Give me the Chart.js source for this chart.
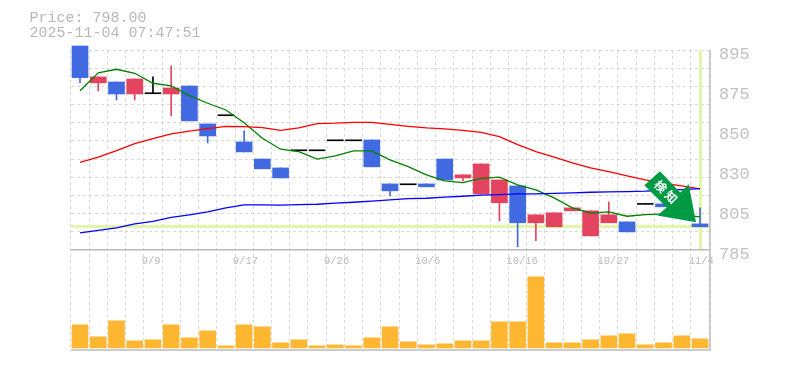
<!DOCTYPE html>
<html><head><meta charset="utf-8">
<style>html,body{margin:0;padding:0;background:#fff}canvas{display:block}
#t{position:absolute;left:29.5px;top:11px;font:15px/15px "Liberation Mono",monospace;color:#b8b8b8;white-space:pre}</style>
<script src="https://cdn.jsdelivr.net/npm/chart.js@4"></script></head>
<body><div id="t">Price: 798.00
2025-11-04 07:47:51</div><canvas id="c" width="785" height="370"></canvas>
<script>
const categories = ['8/26','8/27','8/28','8/29','9/9','9/2','9/3','9/4','9/5','9/17','9/10','9/11','9/12','9/16','9/26','9/18','9/19','9/22','9/24','10/6','9/29','9/30','10/1','10/2','10/16','10/7','10/8','10/9','10/10','10/27','10/14','10/15','10/17','10/20','11/4'];
const dateLabels = ['','','','','9/9','','','','','9/17','','','','','9/26','','','','','10/6','','','','','10/16','','','','','10/27','','','','','11/4',''];
const opens  = [897.2,876.9,877.4,870.8,871.2,870.8,875.2,854.3,859.1,844.4,835,830.1,839.8,839.8,845.3,845.3,845.5,821.3,821.1,821.3,835,824.6,815.8,810.9,820.2,799.9,797.7,806.5,792.7,799.9,800.4,810.3,810.3,808,799.3];
const closes = [879.8,880.2,870.8,879.05,871.2,874.1,856,847.7,859.1,838.9,829.6,824.6,839.8,839.8,845.3,845.3,830.7,817.5,821.1,819.7,823.5,826.3,832.3,823.5,799.9,804.3,805.4,808.1,806.5,804.3,794.9,810.3,808.7,808,797.7];
const highs  = [897.2,880.2,877.4,879.05,880.2,886.2,875.2,854.3,859.1,850.5,835,830.1,839.8,839.8,845.3,845.3,845.5,821.3,821.1,821.3,835,826.3,832.3,823.5,820.2,804.3,805.4,808.1,806.5,811.4,800.4,810.3,810.3,808,808.1];
const lows   = [877,872.5,867.5,867.5,871.2,858.7,856,843.9,859.1,838.9,829.6,824.6,839.8,839.8,845.3,845.3,830.7,814.7,821.1,819.7,823.5,823,815.8,801,786.7,790,797.7,806.5,792.7,799.9,794.9,810.3,808.7,808,797.7];
const maShort = [872.6,882.4,884.4,882.2,876.7,875.2,869.9,865.7,862,855,846.4,840.4,839.1,834.9,836.7,839.5,839.5,834.5,830.8,826.3,823,822,824.4,825,820.8,818,813.6,808.1,805.2,805.9,803.5,804.4,804.8,804.3,803.2];
const maMid = [833.2,836,839.6,843.5,846.2,848.8,850.3,851.7,853,852.8,852.3,850.8,852.1,854.5,854.7,855.2,855.2,854.1,853,852.1,851.6,850.8,849.7,847.3,842.9,839.1,836,832.9,830.1,828.1,825.7,823.5,821.6,820.2,818.6];
const maLong = [794.4,795.7,797.1,799.3,800.7,802.9,804.3,805.9,808.1,809.8,809.8,809.6,809.9,810.1,810.7,811.2,811.8,812.5,813.2,813.4,814,814.5,815.1,815.4,815.8,815.8,816.1,816.4,816.7,816.9,817.1,817.3,817.8,818.2,818.7];
const volumes = [2300,1100,2700,700,800,2300,1000,1700,200,2300,2100,500,800,200,300,200,1000,2100,600,300,400,700,700,2600,2600,7100,500,500,800,1200,1400,300,500,1200,900];
const priceGridTicks = [785,795,805,815,825,835,845,855,865,875,885,895];
const priceTickValues = [895,873,851,829,807,785];
const priceTickLabels = ['895','875','850','830','805','785'];
const dateTickValues = [4,9,14,19,24,29,34];
const lastPrice = 798;
const signalLabel = '検知';

const UP='#E2445F', DOWN='#4169E1', FLAT='#000000', GRID='#d9d9d9', AXIS='#bbbbbb', BAND='#E2F5A9', VOL='#FFB732', ARROW='#009944';
const candleColor = i => opens[i]===closes[i] ? FLAT : (closes[i]>opens[i] ? UP : DOWN);
const colors = categories.map((_,i)=>candleColor(i));
const bodies = categories.map((_,i)=>opens[i]===closes[i] ? [opens[i]-0.27,opens[i]+0.27] : [opens[i],closes[i]]);
const wicks = categories.map((_,i)=>[lows[i],highs[i]]);

const framePlugin = { id:'frame',
  beforeDatasetsDraw(ch){
    const {ctx,chartArea:a,scales:{y,x}} = ch;
    ctx.save(); ctx.fillStyle=BAND;
    const py=Math.round(y.getPixelForValue(lastPrice));
    ctx.fillRect(a.left,py-1,710-a.left,3);
    const px=Math.round(x.getPixelForValue(categories.length-1));
    ctx.fillRect(px-1,a.top,3,y.getPixelForValue(785)-1-a.top);
    ctx.restore();
  },
  afterDraw(ch){
    const {ctx,chartArea:a,scales:{y,x}} = ch;
    ctx.save(); ctx.strokeStyle=AXIS; ctx.lineWidth=1.5;
    ctx.beginPath(); ctx.moveTo(a.left,350); ctx.lineTo(710.5,350); ctx.stroke();
    ctx.beginPath(); ctx.moveTo(710,a.top); ctx.lineTo(710,350); ctx.stroke();
    const tx=x.getPixelForValue(categories.length-1)-4, ty=y.getPixelForValue(closes[34])-4.5;
    const rel=[[0,0],[-7.3,-38],[-15.7,-29.7],[-36,-51],[-51.7,-37],[-29.3,-14.7],[-38.7,-6.7]];
    ctx.fillStyle=ARROW; ctx.beginPath();
    rel.forEach((p,i)=>i?ctx.lineTo(tx+p[0],ty+p[1]):ctx.moveTo(tx+p[0],ty+p[1]));
    ctx.closePath(); ctx.fill();
    ctx.translate(tx-29,ty-29.5); ctx.rotate(Math.PI/4);
    ctx.fillStyle='#fff'; ctx.font='bold 12px "Noto Sans CJK JP"'; ctx.textAlign='center'; ctx.textBaseline='middle';
    ctx.letterSpacing='3px';
    ctx.fillText(signalLabel,0,0);
    ctx.restore();
  }
};

new Chart(document.getElementById('c'),{
  data:{labels:categories,datasets:[
    {type:'line',data:maLong,borderColor:'#0000ff',borderWidth:1.3,pointRadius:0,tension:0,xAxisID:'x',yAxisID:'y',order:1,clip:false},
    {type:'line',data:maMid,borderColor:'#ff0000',borderWidth:1.3,pointRadius:0,tension:0,xAxisID:'x',yAxisID:'y',order:1,clip:false},
    {type:'line',data:maShort,borderColor:'#008000',borderWidth:1.3,pointRadius:0,tension:0,xAxisID:'x',yAxisID:'y',order:1,clip:false},
    {type:'bar',data:wicks,backgroundColor:colors,barThickness:1,grouped:false,xAxisID:'x',yAxisID:'y',order:3,clip:false},
    {type:'bar',data:bodies,backgroundColor:colors,barThickness:16,grouped:false,xAxisID:'x',yAxisID:'y',order:2,clip:false},
    {type:'bar',data:volumes,backgroundColor:VOL,barThickness:16,grouped:false,xAxisID:'x',yAxisID:'yVol',order:4}
  ]},
  options:{
    responsive:false,animation:false,
    layout:{padding:{left:70.9,top:50,right:0,bottom:20}},
    plugins:{legend:{display:false},tooltip:{enabled:false}},
    scales:{
      x:{type:'category',display:false,offset:true},
      xg:{type:'category',axis:'x',labels:dateLabels,offset:false,position:{y:785},
        grid:{color:GRID,drawTicks:false},border:{display:false,dash:[3,3]},
        ticks:{display:false}},
      xl:{type:'linear',axis:'x',position:{y:785},min:0.12,max:35.12,
        afterBuildTicks(s){s.ticks=dateTickValues.map(value=>({value}));},
        grid:{display:false,drawTicks:false},border:{display:false},
        ticks:{autoSkip:false,maxRotation:0,minRotation:0,align:'start',padding:5,color:AXIS,font:{family:'"Liberation Mono"',size:10.5},callback(v){return dateLabels[v];}}},
      y:{type:'linear',position:'left',min:730,max:895,
        afterBuildTicks(s){s.ticks=priceGridTicks.map(value=>({value}));},
        afterFit(s){s.width=0;},
        grid:{drawTicks:false,color:c=>c.tick&&c.tick.value===785?AXIS:GRID,lineWidth:c=>c.tick&&c.tick.value===785?1.5:1},
        border:{display:false,dash:c=>c.tick&&c.tick.value===785?[]:[3,3]},
        ticks:{display:false}},
      y2:{type:'linear',position:'right',min:732.75,max:897.75,
        afterBuildTicks(s){s.ticks=priceTickValues.map(value=>({value}));},
        afterFit(s){s.width=75.9;},
        grid:{display:false,drawTicks:false},border:{display:false},
        ticks:{autoSkip:false,padding:10,color:'#c2c2c2',font:{family:'"Liberation Mono"',size:17},callback(v,i){return priceTickLabels[i];}}},
      yVol:{type:'linear',display:false,min:-200,max:29800}
    }
  },
  plugins:[framePlugin]
});
</script></body></html>
